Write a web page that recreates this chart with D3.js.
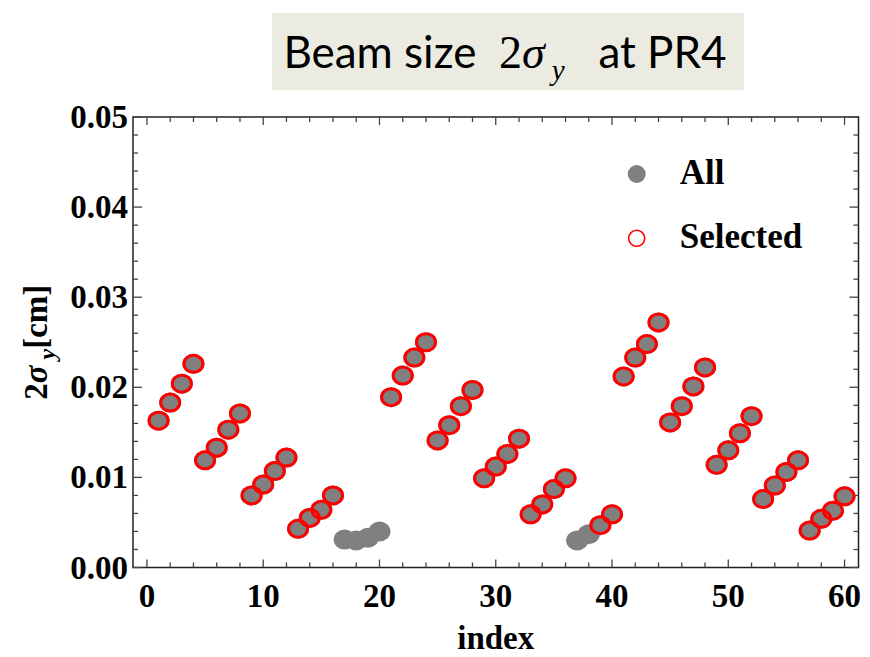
<!DOCTYPE html>
<html>
<head>
<meta charset="utf-8">
<script src="https://cdn.jsdelivr.net/npm/d3@7"></script>
<style>
  body { margin: 0; background: #fff; }
  svg { display: block; }
  .tick-label { font-family: "Liberation Serif", "Times New Roman", serif; font-weight: bold; font-size: 33px; fill: #000; }
</style>
</head>
<body>
<div id="chart"></div>
<script>
// data
const index = [1,2,3,4,5,6,7,8,9,10,11,12,13,14,15,16,17,18,19,20,
  21,22,23,24,25,26,27,28,29,30,31,32,33,34,35,36,37,38,39,40,
  41,42,43,44,45,46,47,48,49,50,51,52,53,54,55,56,57,58,59,60]
const sigma = [0.0163,0.0183,0.0204,0.0226, 0.0119,0.0133,0.0153,0.0171,
  0.0080,0.0092,0.0107,0.0122, 0.0043,0.0055,0.0064,0.0080,
  0.0031,0.0030,0.0033,0.0040, 0.0189,0.0213,0.0233,0.0250,
  0.0141,0.0158,0.0179,0.0197, 0.0099,0.0112,0.0126,0.0143,
  0.0059,0.0070,0.0087,0.0099, 0.0030,0.0037,0.0047,0.0059,
  0.0212,0.0233,0.0248,0.0272, 0.0161,0.0179,0.0201,0.0222,
  0.0114,0.0130,0.0149,0.0168, 0.0076,0.0091,0.0106,0.0119,
  0.0041,0.0054,0.0063,0.0079]
const notSelected = [17, 18, 19, 20, 37, 38]
const xTicks = [0, 10, 20, 30, 40, 50, 60]
const yTicks = [0, 0.01, 0.02, 0.03, 0.04, 0.05]
const legendLabels = ['All', 'Selected']

const width = 870, height = 657
const frame = { left: 133, right: 858.5, top: 117, bottom: 567.5 }

const points = index.map((d, i) => ({ index: d, value: sigma[i], selected: !notSelected.includes(d) }))

const x = d3.scaleLinear().domain([-1.2, 61.2]).range([frame.left, frame.right])
const y = d3.scaleLinear().domain([0, 0.05]).range([frame.bottom, frame.top])

const svg = d3.select('#chart').append('svg')
  .attr('width', width).attr('height', height)

// title box
const title = svg.append('g').attr('class', 'title')
title.append('rect')
  .attr('x', 272).attr('y', 13).attr('width', 472).attr('height', 77)
  .attr('fill', '#ecebe2')
const tt = title.append('text')
  .attr('x', 505).attr('y', 68)
  .attr('text-anchor', 'middle')
  .style('white-space', 'pre')
  .style('font-family', 'Lato, "Open Sans", sans-serif')
  .style('font-size', '44px')
tt.append('tspan').text('Beam size  ')
tt.append('tspan').style('font-family', '"Liberation Serif", serif').style('font-size', '46px').text('2')
tt.append('tspan').style('font-family', '"Liberation Serif", serif').style('font-size', '46px').style('font-style', 'italic').text('σ')
tt.append('tspan').style('font-family', '"Liberation Serif", serif').style('font-style', 'italic')
  .style('font-size', '29px').attr('dy', 12).text(' y')
tt.append('tspan').attr('dy', -12).text('   at PR4')

// frame
svg.append('rect')
  .attr('x', frame.left).attr('y', frame.top)
  .attr('width', frame.right - frame.left).attr('height', frame.bottom - frame.top)
  .attr('fill', 'none').attr('stroke', '#222').attr('stroke-width', 1.5)

// ticks on all four sides, pointing inward
const axes = svg.append('g').attr('class', 'axes')
const xMinor = d3.range(0, 61, 2)
const yMinor = d3.range(0, 0.0501, 0.002)
const tickLen = v => xTicks.includes(v) ? 8 : 5
axes.selectAll('line.xb').data(xMinor).join('line')
  .attr('class', 'xb')
  .attr('x1', d => x(d)).attr('x2', d => x(d))
  .attr('y1', frame.bottom).attr('y2', d => frame.bottom - tickLen(d))
axes.selectAll('line.xt').data(xMinor).join('line')
  .attr('class', 'xt')
  .attr('x1', d => x(d)).attr('x2', d => x(d))
  .attr('y1', frame.top).attr('y2', d => frame.top + tickLen(d))
const isMajorY = v => Math.abs(v * 100 - Math.round(v * 100)) < 1e-6
axes.selectAll('line.yl').data(yMinor).join('line')
  .attr('class', 'yl')
  .attr('y1', d => y(d)).attr('y2', d => y(d))
  .attr('x1', frame.left).attr('x2', d => frame.left + (isMajorY(d) ? 9 : 5))
axes.selectAll('line.yr').data(yMinor).join('line')
  .attr('class', 'yr')
  .attr('y1', d => y(d)).attr('y2', d => y(d))
  .attr('x1', frame.right).attr('x2', d => frame.right - (isMajorY(d) ? 9 : 5))
axes.selectAll('line').attr('stroke', '#444').attr('stroke-width', 1.3)

// tick labels
axes.selectAll('text.xl').data(xTicks).join('text')
  .attr('class', 'tick-label xl')
  .attr('x', d => x(d)).attr('y', 607)
  .attr('text-anchor', 'middle')
  .text(d => d)
axes.selectAll('text.ylab').data(yTicks).join('text')
  .attr('class', 'tick-label ylab')
  .attr('x', 128).attr('y', d => y(d) + 11)
  .attr('text-anchor', 'end')
  .text(d => d.toFixed(2))

// axis titles
svg.append('text')
  .attr('class', 'tick-label')
  .attr('x', (frame.left + frame.right) / 2).attr('y', 649)
  .attr('text-anchor', 'middle')
  .text('index')
const yl = svg.append('text')
  .attr('class', 'tick-label')
  .attr('transform', `translate(47, ${(frame.top + frame.bottom) / 2}) rotate(-90)`)
  .attr('text-anchor', 'middle')
yl.append('tspan').text('2')
yl.append('tspan').style('font-style', 'italic').text('σ')
yl.append('tspan').style('font-style', 'italic').style('font-size', '24px').attr('dy', 8).text(' y')
yl.append('tspan').attr('dy', -8).text('[cm]')

// points: gray "All", red rings for "Selected"
const marks = svg.append('g').attr('class', 'points')
marks.selectAll('ellipse.all').data(points).join('ellipse')
  .attr('class', 'all')
  .attr('cx', d => x(d.index)).attr('cy', d => y(d.value))
  .attr('rx', 11).attr('ry', 10)
  .attr('fill', '#808080')
marks.selectAll('ellipse.sel').data(points.filter(d => d.selected)).join('ellipse')
  .attr('class', 'sel')
  .attr('cx', d => x(d.index)).attr('cy', d => y(d.value))
  .attr('rx', 9.5).attr('ry', 8.5)
  .attr('fill', 'none').attr('stroke', '#ff0000').attr('stroke-width', 3)

// legend
const legend = svg.append('g').attr('class', 'legend')
  .selectAll('g').data(legendLabels).join('g')
  .attr('transform', (d, i) => `translate(636.7, ${174 + i * 64.3})`)
legend.append('circle')
  .attr('r', d => d === 'All' ? 9 : 8)
  .attr('fill', d => d === 'All' ? '#808080' : 'none')
  .attr('stroke', d => d === 'All' ? 'none' : '#ff0000')
  .attr('stroke-width', 1.6)
legend.append('text')
  .attr('class', 'tick-label')
  .style('font-size', '35px')
  .attr('x', 43).attr('y', 9.5)
  .text(d => d)
</script>
</body>
</html>
